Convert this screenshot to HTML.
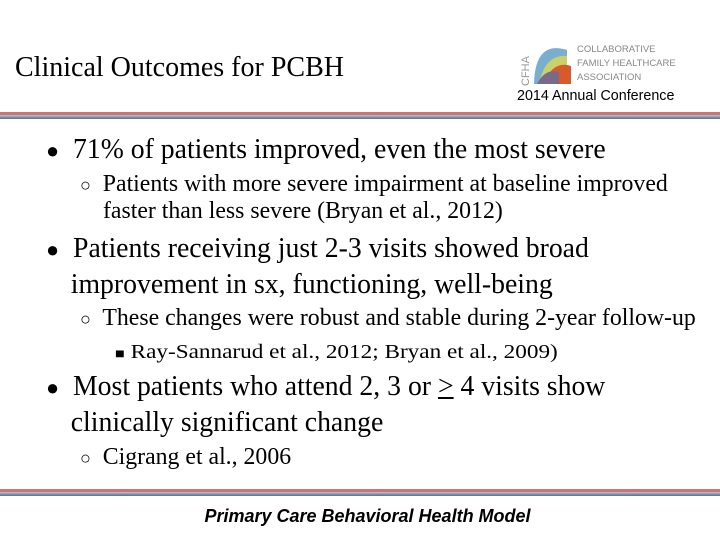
<!DOCTYPE html>
<html><head><meta charset="utf-8"><style>
body{margin:0;width:720px;height:540px;background:#fff;position:relative;overflow:hidden;font-family:"Liberation Serif",serif;color:#000}
.a{position:absolute;white-space:nowrap}
.l1{font-size:28px;line-height:35px;transform:scaleX(.99);transform-origin:left}
.l2{font-size:23.8px;line-height:26px}
.l3{font-size:20px;line-height:24px;transform:scaleX(1.16);transform-origin:left}
.line{position:absolute;left:0;width:720px}
</style></head><body>
<div class="a" style="left:15px;top:51px;font-size:28px;line-height:34px">Clinical Outcomes for PCBH</div>
<div class="a" style="left:515px;top:36px;width:170px;height:52px">
<svg width="170" height="52"><text x="14" y="50" font-size="11" fill="#999" font-family="Liberation Sans" transform="rotate(-90 14 50)">CFHA</text>
<path d="M19 48 Q20 4 52 14 L52 48Z" fill="#7aaed0"/><path d="M24 48 Q30 18 52 20 L52 48Z" fill="#c9d26a"/><path d="M28 48 Q38 24 56 30 L56 48Z" fill="#d85a2a"/><path d="M22 48 Q30 32 44 36 L44 48Z" fill="#7a6a8a"/>
<text x="62" y="16" font-size="9.5" fill="#888" font-family="Liberation Sans">COLLABORATIVE</text>
<text x="62" y="30" font-size="9.5" fill="#888" font-family="Liberation Sans">FAMILY HEALTHCARE</text>
<text x="62" y="44" font-size="9.5" fill="#888" font-family="Liberation Sans">ASSOCIATION</text></svg></div>
<div class="a" style="left:517px;top:88px;font-family:'Liberation Sans',sans-serif;font-size:14.3px">2014 Annual Conference</div>
<div class="line" style="top:112px;height:3px;background:#c0504d;opacity:.8"></div>
<div class="line" style="top:115px;height:4px;background:linear-gradient(#b8c4d8,#5a6a8a)"></div>

<div class="a l1" style="left:46px;top:132px"><span style="font-size:22px">●</span>&nbsp; 71% of patients improved, even the most severe</div>
<div class="a l2" style="left:80px;top:171px"><span style="font-size:18px">○</span>&nbsp; Patients with more severe impairment at baseline improved<br><span style="padding-left:23px">faster than less severe (Bryan et al., 2012)</span></div>
<div class="a l1" style="left:46px;top:231px"><span style="font-size:22px">●</span>&nbsp; Patients receiving just 2-3 visits showed broad<br><span style="padding-left:25px">improvement in sx, functioning, well-being</span></div>
<div class="a l2" style="left:80px;top:305px"><span style="font-size:18px">○</span>&nbsp; These changes were robust and stable during 2-year follow-up</div>
<div class="a l3" style="left:115px;top:340px"><span style="font-size:14px">■</span> Ray-Sannarud et al., 2012; Bryan et al., 2009)</div>
<div class="a l1" style="left:46px;top:369px"><span style="font-size:22px">●</span>&nbsp; Most patients who attend 2, 3 or <u>&gt;</u> 4 visits show<br><span style="padding-left:25px">clinically significant change</span></div>
<div class="a l2" style="left:80px;top:444px"><span style="font-size:18px">○</span>&nbsp; Cigrang et al., 2006</div>

<div class="line" style="top:489px;height:3px;background:#c0504d;opacity:.8"></div>
<div class="line" style="top:492px;height:4px;background:linear-gradient(#b8c4d8,#5a6a8a)"></div>
<div class="a" style="left:0;width:735px;text-align:center;top:506px;font-family:'Liberation Sans',sans-serif;font-weight:bold;font-style:italic;font-size:18px">Primary Care Behavioral Health Model</div>
</body></html>
